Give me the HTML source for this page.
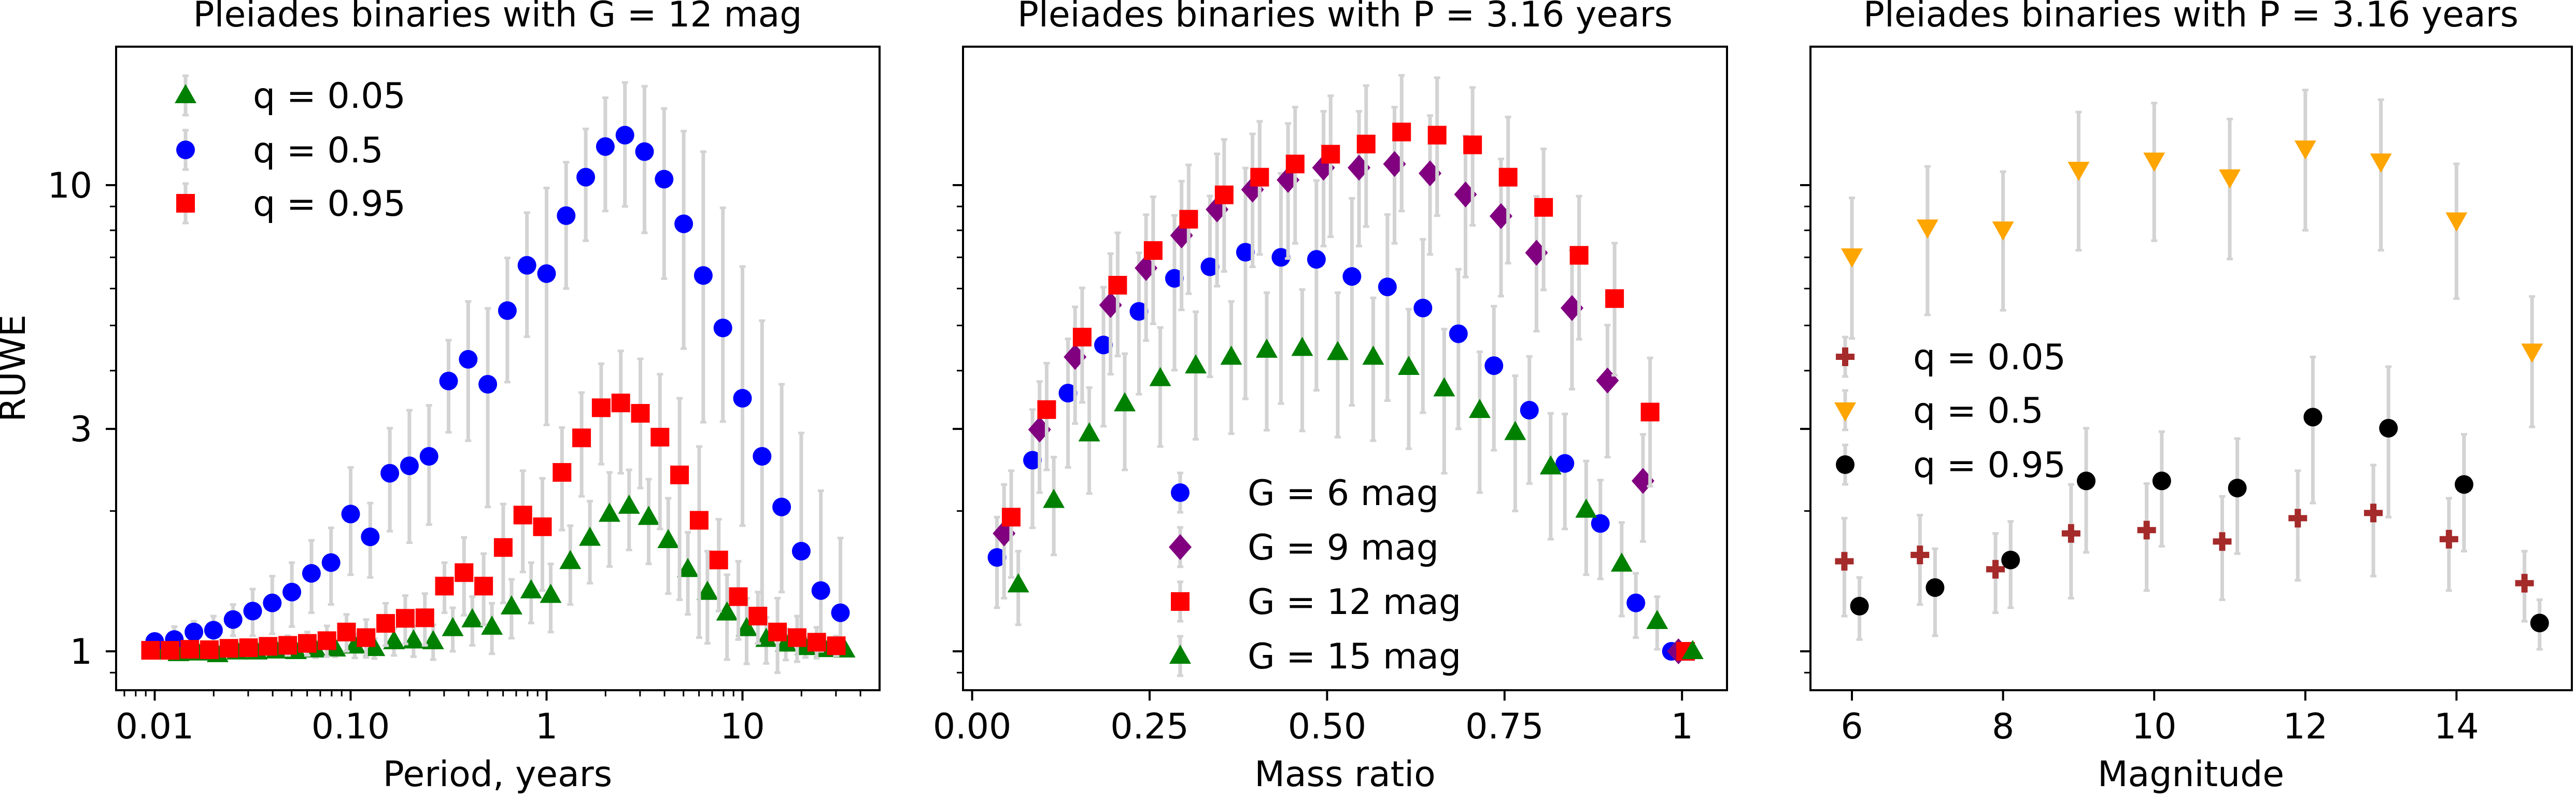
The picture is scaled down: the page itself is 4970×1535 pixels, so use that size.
<!DOCTYPE html>
<html><head><meta charset="utf-8"><style>
html,body{margin:0;padding:0;background:#fff;overflow:hidden;}
svg{display:block;font-family:"DejaVu Sans","Liberation Sans",sans-serif;}
</style></head><body>
<svg id="fig" xmlns="http://www.w3.org/2000/svg" width="4970" height="1535" viewBox="0 0 4970 1535">
<rect width="4970" height="1535" fill="#fff"/>
</svg>
<script>
// ---------- Panel 1 data ----------
const p1Exponents = [-2,-1.9,-1.8,-1.7,-1.6,-1.5,-1.4,-1.3,-1.2,-1.1,-1.0,-0.9,-0.8,-0.7,-0.6,-0.5,-0.4,-0.3,-0.2,-0.1,0,0.1,0.2,0.3,0.4,0.5,0.6,0.7,0.8,0.9,1.0,1.1,1.2,1.3,1.4,1.5];
const p1Green = [0.998,0.99,0.993,0.985,0.998,0.998,1.003,1.0,1.008,1.013,1.028,1.015,1.05,1.054,1.05,1.12,1.17,1.128,1.247,1.35,1.32,1.56,1.75,1.97,2.05,1.94,1.73,1.50,1.34,1.21,1.12,1.062,1.038,1.02,1.01,1.008];
const p1GreenErr = [0.02,0.02,0.02,0.02,0.02,0.03,0.03,0.03,0.04,0.04,0.06,0.05,0.07,0.08,0.09,0.12,0.14,0.14,0.18,0.2,0.22,0.3,0.35,0.45,0.4,0.4,0.4,0.3,0.3,0.25,0.18,0.12,0.08,0.05,0.03,0.02];
const p1Blue = [1.05,1.06,1.10,1.11,1.17,1.22,1.27,1.34,1.47,1.55,1.97,1.76,2.41,2.50,2.62,3.80,4.23,3.74,5.38,6.73,6.46,8.60,10.4,12.1,12.8,11.8,10.3,8.26,6.40,4.94,3.49,2.62,2.04,1.64,1.35,1.21];
const p1BlueErr = [0.04,0.07,0.06,0.08,0.09,0.14,0.18,0.21,0.26,0.29,0.51,0.32,0.6,0.79,0.75,0.85,1.4,1.7,1.6,2.0,3.4,2.6,2.8,3.3,3.8,4.5,4.3,4.8,5.4,4.0,3.2,2.5,1.7,1.3,0.86,0.54];
const p1BlueErrLow = [0.04,0.07,0.06,0.08,0.09,0.14,0.18,0.21,0.26,0.29,0.51,0.32,0.6,0.79,0.75,0.85,1.4,1.7,1.6,2.0,3.4,2.6,2.8,3.3,3.8,3.9,4.0,3.8,3.3,1.83,1.63,1.4,0.7,0.6,0.35,0.2];
const p1Red = [1.005,1.005,1.01,1.008,1.015,1.018,1.025,1.03,1.04,1.054,1.10,1.07,1.148,1.177,1.18,1.38,1.475,1.38,1.67,1.96,1.85,2.42,2.87,3.33,3.41,3.24,2.88,2.39,1.91,1.57,1.31,1.19,1.10,1.07,1.046,1.028];
const p1RedErr = [0.02,0.02,0.03,0.03,0.03,0.04,0.04,0.05,0.06,0.08,0.1,0.1,0.12,0.14,0.15,0.17,0.28,0.24,0.4,0.48,0.5,0.6,0.72,0.81,1.0,1.0,1.05,1.1,0.84,0.35,0.25,0.15,0.2,0.12,0.08,0.05];
const p1Legend = ["q = 0.05","q = 0.5","q = 0.95"];
const p1XTickVals = [0.01,0.1,1,10];
const p1XTickLabels = ["0.01","0.10","1","10"];
const yTickVals = [1,3,10];
const yTickLabels = ["1","3","10"];
const yMinorVals = [0.9,2,4,5,6,7,8,9];

// ---------- Panel 2 data ----------
const p2Q = [0.05,0.1,0.15,0.2,0.25,0.3,0.35,0.4,0.45,0.5,0.55,0.6,0.65,0.7,0.75,0.8,0.85,0.9,0.95,1.0];
const p2G6 = [1.59,2.57,3.58,4.54,5.36,6.31,6.68,7.18,7.0,6.93,6.37,6.05,5.45,4.80,4.10,3.29,2.53,1.88,1.27,1.0];
const p2G6Err = [0.35,0.73,1.1,1.5,1.8,2.3,2.8,3.7,3.6,3.3,3.0,2.6,2.2,1.8,1.4,1.0,0.7,0.45,0.2,0.02];
const p2G9 = [1.79,2.99,4.28,5.53,6.64,7.80,8.87,9.78,10.26,10.9,10.9,11.1,10.6,9.55,8.58,7.16,5.45,3.81,2.32,1.0];
const p2G9Err = [0.49,0.8,1.2,1.6,2.0,2.4,2.8,3.1,3.3,3.5,3.5,3.6,3.5,3.2,2.8,2.3,1.8,1.2,0.6,0.02];
const p2G12 = [1.94,3.30,4.72,6.10,7.24,8.45,9.53,10.4,11.1,11.65,12.25,13.0,12.8,12.2,10.4,8.96,7.07,5.71,3.26,1.0];
const p2G12Err = [0.5,0.85,1.3,1.8,2.2,2.6,3.0,3.3,3.6,3.9,4.1,4.2,4.2,4.0,3.6,3.0,2.4,1.8,1.0,0.03];
const p2G15 = [1.39,2.11,2.93,3.40,3.85,4.10,4.28,4.43,4.47,4.38,4.28,4.07,3.66,3.29,2.95,2.49,2.01,1.54,1.16,1.0];
const p2G15Err = [0.25,0.5,0.75,0.95,1.1,1.25,1.35,1.45,1.5,1.5,1.45,1.35,1.25,1.1,0.95,0.75,0.55,0.35,0.15,0.02];
const p2Legend = ["G = 6 mag","G = 9 mag","G = 12 mag","G = 15 mag"];
const p2XTickVals = [0,0.25,0.5,0.75,1];
const p2XTickLabels = ["0.00","0.25","0.50","0.75","1"];

// ---------- Panel 3 data ----------
const p3Mag = [6,7,8,9,10,11,12,13,14,15];
const p3Q005 = [1.56,1.61,1.50,1.79,1.82,1.72,1.93,1.98,1.74,1.40];
const p3Q005Err = [0.37,0.35,0.29,0.49,0.47,0.43,0.51,0.53,0.39,0.24];
const p3Q05 = [7.04,8.12,8.04,10.8,11.3,10.4,12.0,11.25,8.41,4.40];
const p3Q05Err = [2.35,2.85,2.65,3.55,3.7,3.46,4.0,4.0,2.7,1.37];
const p3Q095 = [1.25,1.37,1.57,2.32,2.32,2.24,3.18,3.01,2.28,1.15];
const p3Q095Err = [0.19,0.29,0.33,0.69,0.64,0.62,1.1,1.07,0.64,0.14];
const p3Legend = ["q = 0.05","q = 0.5","q = 0.95"];
const p3XTickVals = [6,8,10,12,14];
const p3XTickLabels = ["6","8","10","12","14"];

const NS = "http://www.w3.org/2000/svg";
const svg = document.getElementById('fig');
function mk(tag, attrs, parent){
  const e = document.createElementNS(NS, tag);
  for (const k in attrs) e.setAttribute(k, attrs[k]);
  (parent||svg).appendChild(e);
  return e;
}
const TOP = 90, BOT = 1331;
function yPix(v){ return 1256 - 899*Math.log10(v); }
const FS = 68;

function marker(g, shape, color, cx, cy){
  let e;
  if (shape==='circle'){ e = mk('circle',{cx:cx,cy:cy,r:18,fill:color},g); }
  else if (shape==='square'){ e = mk('rect',{x:cx-18,y:cy-18,width:36,height:36,fill:color},g); }
  else if (shape==='tri'){ e = mk('polygon',{points:`${cx},${cy-22} ${cx-21},${cy+15} ${cx+21},${cy+15}`,fill:color},g); }
  else if (shape==='trid'){ e = mk('polygon',{points:`${cx},${cy+22} ${cx-21},${cy-15} ${cx+21},${cy-15}`,fill:color},g); }
  else if (shape==='diamond'){ e = mk('polygon',{points:`${cx},${cy-25} ${cx+22},${cy} ${cx},${cy+25} ${cx-22},${cy}`,fill:color},g); }
  else if (shape==='plus'){ e = mk('polygon',{points:`${cx-6},${cy-18} ${cx+6},${cy-18} ${cx+6},${cy-6} ${cx+18},${cy-6} ${cx+18},${cy+6} ${cx+6},${cy+6} ${cx+6},${cy+18} ${cx-6},${cy+18} ${cx-6},${cy+6} ${cx-18},${cy+6} ${cx-18},${cy-6} ${cx-6},${cy-6}`,fill:color},g); }
  return e;
}
function errbar(g, cx, y1, y2){
  mk('line',{x1:cx,y1:y1,x2:cx,y2:y2,stroke:'#d3d3d3','stroke-width':7},g);
  mk('line',{x1:cx-6,y1:y1,x2:cx+6,y2:y1,stroke:'#d3d3d3','stroke-width':5},g);
  mk('line',{x1:cx-6,y1:y2,x2:cx+6,y2:y2,stroke:'#d3d3d3','stroke-width':5},g);
}
function series(panel, name, xs, vals, errs, xfun, shape, color, errsLow){
  const g = mk('g',{},panel);
  
  
  const lo = errsLow || errs;
  for (let i=0;i<xs.length;i++){
    const cx = xfun(xs[i]);
    errbar(g, cx, yPix(vals[i]+errs[i]), yPix(Math.max(vals[i]-lo[i],0.85)));
  }
  for (let i=0;i<xs.length;i++){
    const m = marker(g, shape, color, xfun(xs[i]), yPix(vals[i]));
    
    
  }
}
function text(parent, x, y, str, anchor, extra){
  const t = mk('text',Object.assign({x:x,y:y,'font-size':FS,'text-anchor':anchor||'start',fill:'#000'},extra||{}),parent);
  t.textContent = str;
  return t;
}
function frameAndYTicks(panel, L, R){
  const g = mk('g',{},panel);
  
  
  yTickVals.forEach(v=>{ const y=yPix(v); mk('line',{x1:L-20,y1:y,x2:L,y2:y,stroke:'#000','stroke-width':4},g); });
  yMinorVals.forEach(v=>{ const y=yPix(v); mk('line',{x1:L-12,y1:y,x2:L,y2:y,stroke:'#000','stroke-width':3},g); });
}
function xTicks(panel, vals, labels, xfun, minors){
  const g = mk('g',{},panel);
  
  
  vals.forEach((v,i)=>{
    const x=xfun(v);
    mk('line',{x1:x,y1:BOT,x2:x,y2:BOT+20,stroke:'#000','stroke-width':4},g);
    const t=text(g,x,1424,labels[i],'middle');
    
    
  });
  (minors||[]).forEach(v=>{ const x=xfun(v); mk('line',{x1:x,y1:BOT,x2:x,y2:BOT+12,stroke:'#000','stroke-width':3},g); });
}
function frame(panel, L, R){
  const f = mk('rect',{x:L,y:TOP,width:R-L,height:BOT-TOP,fill:'none',stroke:'#000','stroke-width':4},panel);
  
  
}
function legend(panel, entries, shapes, colors, mx, tx, ys){
  const g = mk('g',{},panel);
  
  
  entries.forEach((s,i)=>{
    const e = mk('g',{},g);
    
    
    errbar(e, mx, ys[i]-38, ys[i]+38);
    marker(e, shapes[i], colors[i], mx, ys[i]);
    text(e, tx, ys[i]+24, s, 'start');
  });
}
function panelGroup(name){
  const g = mk('g',{});
  
  
  return g;
}

// ===== Panel 1 =====
(function(){
  const P = panelGroup('panel-period');
  const L=224, R=1697;
  const xb = e => 298.5 + 378*(e+2);
  const xlog = v => 298.5 + 378*(Math.log10(v)+2);
  frameAndYTicks(P,L,R);
  const minors=[];
  [0.001,0.01,0.1,1,10].forEach(d=>{ for(let k=2;k<=9;k++){ const v=d*k; const x=xlog(v); if(x>L+2 && x<R-2) minors.push(v);} });
  xTicks(P,p1XTickVals,p1XTickLabels,xlog,minors);
  yTickVals.forEach((v,i)=>{ const t=text(P,178,yPix(v)+24,yTickLabels[i],'end');   });
  series(P,'series-q-0.05',p1Exponents,p1Green,p1GreenErr,e=>xb(e)+8,'tri','#008000');
  series(P,'series-q-0.5',p1Exponents,p1Blue,p1BlueErr,e=>xb(e),'circle','#0000ff',p1BlueErrLow);
  series(P,'series-q-0.95',p1Exponents,p1Red,p1RedErr,e=>xb(e)-8,'square','#ff0000');
  frame(P,L,R);
  legend(P,p1Legend,['tri','circle','square'],['#008000','#0000ff','#ff0000'],358,488,[184,289,392]);
  const t=text(P,960,51,'Pleiades binaries with G = 12 mag','middle');  
  const xl=text(P,960,1516,'Period, years','middle');  
  const yl=text(P,0,0,'RUWE','middle',{transform:'translate(48,710) rotate(-90)'});  
})();

// ===== Panel 2 =====
(function(){
  const P = panelGroup('panel-mass-ratio');
  const L=1858, R=3332;
  const xq = q => 1875.6 + 1369.6*q;
  frameAndYTicks(P,L,R);
  xTicks(P,p2XTickVals,p2XTickLabels,xq,[]);
  series(P,'series-g-6',p2Q,p2G6,p2G6Err,q=>xq(q-0.015),'circle','#0000ff');
  series(P,'series-g-9',p2Q,p2G9,p2G9Err,q=>xq(q-0.005),'diamond','#800080');
  series(P,'series-g-12',p2Q,p2G12,p2G12Err,q=>xq(q+0.005),'square','#ff0000');
  series(P,'series-g-15',p2Q,p2G15,p2G15Err,q=>xq(q+0.015),'tri','#008000');
  frame(P,L,R);
  legend(P,p2Legend,['circle','diamond','square','tri'],['#0000ff','#800080','#ff0000','#008000'],2277,2407,[950,1055,1160,1265]);
  const t=text(P,2595,51,'Pleiades binaries with P = 3.16 years','middle');  
  const xl=text(P,2595,1516,'Mass ratio','middle');  
})();

// ===== Panel 3 =====
(function(){
  const P = panelGroup('panel-magnitude');
  const L=3493, R=4962;
  const xm = m => 3573 + 145.8*(m-6);
  frameAndYTicks(P,L,R);
  xTicks(P,p3XTickVals,p3XTickLabels,xm,[]);
  series(P,'series-q-0.05',p3Mag,p3Q005,p3Q005Err,m=>xm(m-0.1),'plus','#a52a2a');
  series(P,'series-q-0.5',p3Mag,p3Q05,p3Q05Err,m=>xm(m),'trid','#ffa500');
  series(P,'series-q-0.95',p3Mag,p3Q095,p3Q095Err,m=>xm(m+0.1),'circle','#000000');
  frame(P,L,R);
  legend(P,p3Legend,['plus','trid','circle'],['#a52a2a','#ffa500','#000000'],3560,3691,[688,791,896]);
  const t=text(P,4227,51,'Pleiades binaries with P = 3.16 years','middle');  
  const xl=text(P,4227,1516,'Magnitude','middle');  
})();
</script>
</body></html>
